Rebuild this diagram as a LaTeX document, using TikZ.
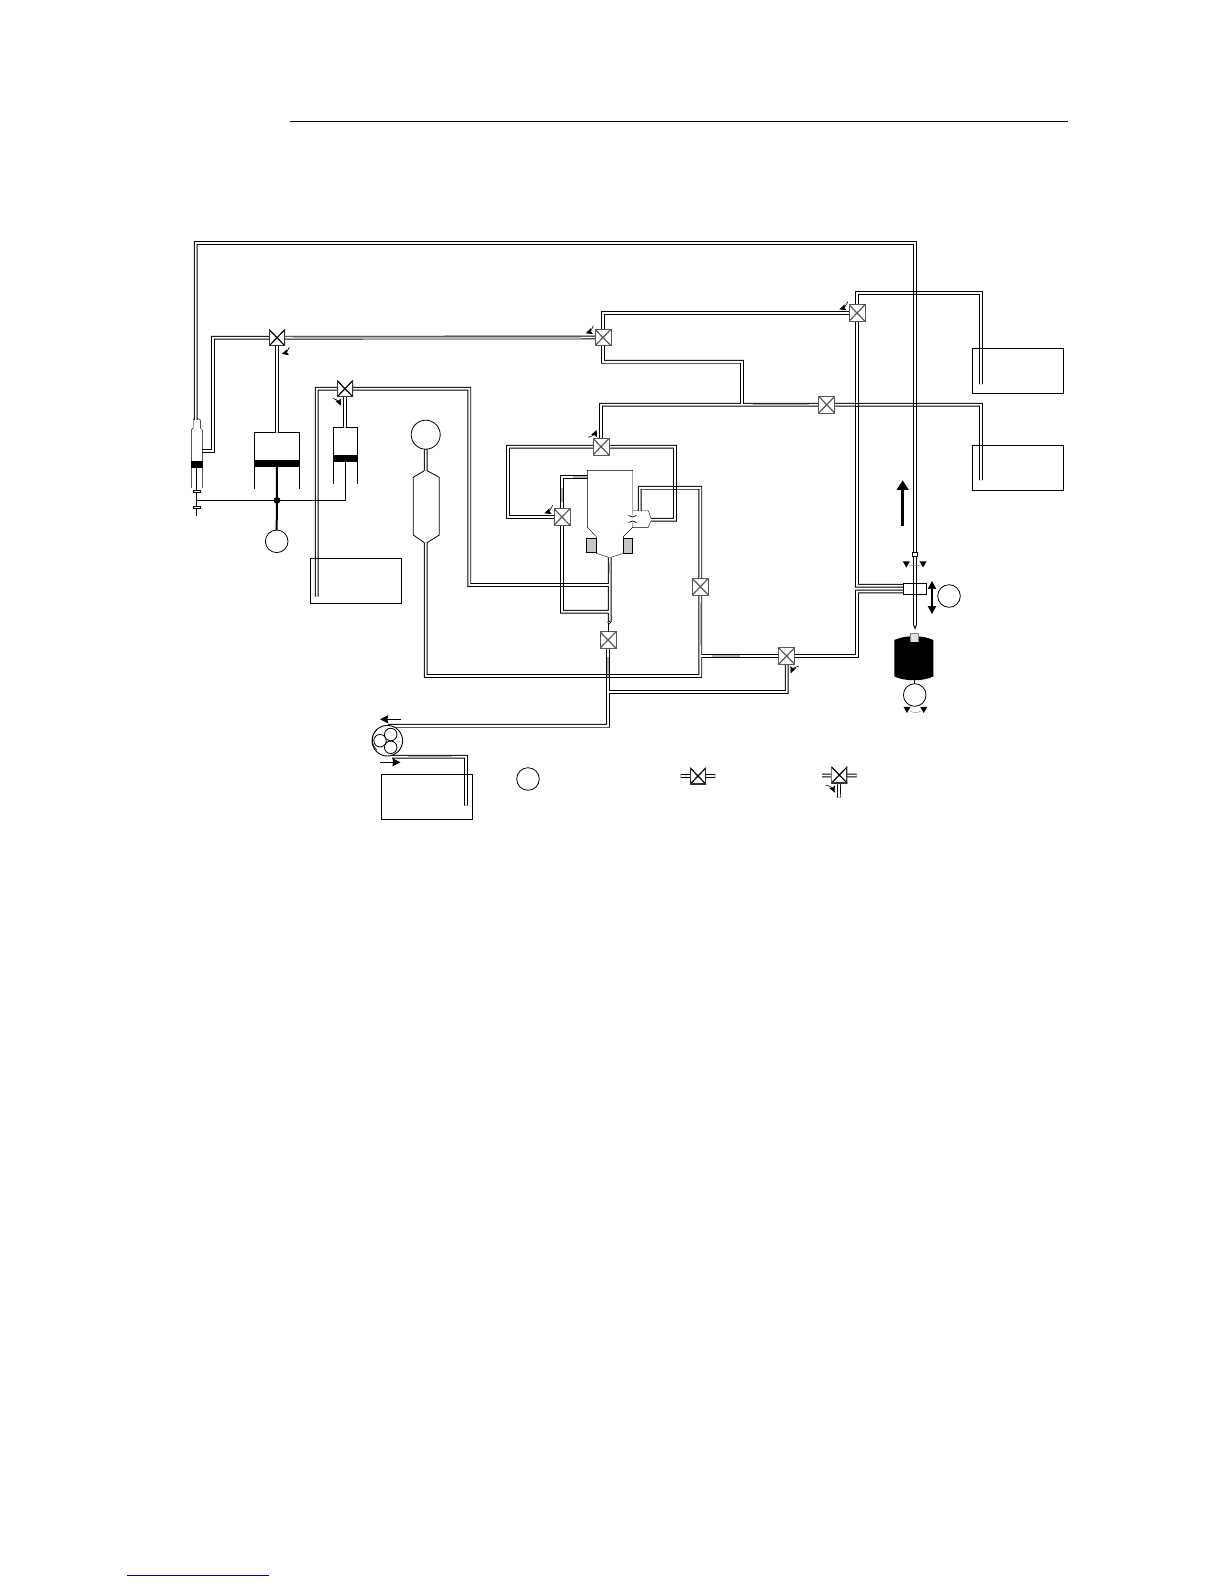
\documentclass[tikz,border=0pt]{standalone}
\usetikzlibrary{arrows.meta,calc}
\pgfdeclarelayer{pipes}
\pgfsetlayers{pipes,main}
\definecolor{footblue}{RGB}{0,0,160}
\tikzset{
  x=1pt,y=-1pt,
  line width=1pt,
  pipe/.style={line width=0.9pt,double=white,double distance=1.9pt},
  graybit/.style={line width=1.9pt,draw=gray!60},
  valvebase/.style={rectangle,fill=white,inner sep=0pt,outer sep=0pt,minimum width=16pt,minimum height=16.5pt},
  xmark/.style={path picture={\draw[line width=1.2pt]
      (path picture bounding box.north west)--(path picture bounding box.south east)
      (path picture bounding box.north east)--(path picture bounding box.south west);}},
  valve/.style={valvebase,draw=black!65,line width=0.9pt,xmark},
  valveopen/.style={valvebase,path picture={\draw[line width=1.2pt]
      (path picture bounding box.north west)--(path picture bounding box.south east)
      (path picture bounding box.north east)--(path picture bounding box.south west);
      \draw[line width=2pt,draw=black!80]
      (path picture bounding box.north west)--(path picture bounding box.south west)
      --(path picture bounding box.south east)--(path picture bounding box.north east);}},
  motor/.style={circle,draw,fill=white,line width=0.8pt,inner sep=0pt,outer sep=0pt,minimum size=22.6pt},
  roller/.style={circle,draw,line width=0.8pt,inner sep=0pt,outer sep=0pt,minimum size=12.5pt},
  tank/.style={rectangle,draw,line width=1pt,inner sep=0pt,outer sep=0pt,minimum width=91pt,minimum height=45pt},
  turn/.style={line width=0.6pt,-{Stealth[length=6.5pt,width=6pt,inset=1pt]}},
  flow/.style={line width=0.9pt,-{Stealth[length=8pt,width=8pt,inset=0.5pt]}},
  block/.style={fill=gray!45,draw,line width=0.8pt},
}
\newcommand\xing[1]{\draw[line width=0.9pt] ([shift={(-1.4,-1.4)}]#1) rectangle ([shift={(1.4,1.4)}]#1);}
\newcommand\tridown[2]{\fill (#1-3.6,#2-3) -- (#1+3.6,#2-3) -- (#1,#2+3.2) -- cycle;}
\begin{document}
\begin{tikzpicture}
\useasboundingbox (0,0) rectangle (1224,1584);
\begin{pgfonlayer}{pipes}
\fill[white] (0,0) rectangle (1224,1584);
\end{pgfonlayer}

% page rules
\coordinate (hl) at (290,121.5); \coordinate (hr) at (1067.5,121.5);
\draw[line width=1pt] (hl) -- (hr);
\coordinate (fl) at (127,1575); \coordinate (fr) at (269,1575);
\draw[line width=1pt,footblue] (fl) -- (fr);

% valves
\node[valveopen] (V1) at (277,337.7) {};
\node[valveopen] (V2) at (345,388.7) {};
\node[valve] (V3) at (603,337.5) {};
\node[valve] (V6) at (601,446.7) {};
\node[valve] (V7) at (826.7,404.7) {};
\node[valve] (V8) at (857,313) {};
\node[valve] (V10) at (562,517) {};
\node[valve] (V4) at (700.3,586.7) {};
\node[valve] (V5) at (608,640) {};
\node[valve] (V9) at (786.7,656) {};
\node[valveopen] (LA) at (698,776) {};
\node[valveopen] (LB) at (839.3,775) {};

% tanks, motors, pump
\node[tank] (T1) at (355.8,580.8) {};
\node[tank] (T2) at (1018,370.8) {};
\node[tank] (T3) at (1018,467.8) {};
\node[tank] (T4) at (427,796.8) {};
\node[motor] (MA) at (276.7,541.3) {};
\node[motor,minimum size=29pt] (FC) at (425.7,434.7) {};
\node[motor] (MB) at (949,596) {};
\node[motor] (MC) at (914.7,695) {};
\node[motor] (ML) at (528,779) {};
\node[circle,draw,fill=white,line width=0.9pt,inner sep=0pt,minimum size=30.6pt] (P) at (387.3,740.7) {};
\node[roller] (R1) at (380,740.7) {};
\node[roller] (R2) at (390.7,734.5) {};
\node[roller] (R3) at (390.7,747.3) {};

% pipe waypoints
\coordinate (sytip) at (195.7,420);
\coordinate (syside) at (202,451);
\coordinate (toprt) at (915,243);
\coordinate (needletop) at (915,625);
\coordinate (a2) at (213,337.7);
\coordinate (bigtop) at (277,432.3);
\coordinate (smtop) at (345,427.3);
\coordinate (t1in) at (316.7,596.7);
\coordinate (b1) at (469.3,585);
\coordinate (j1) at (609.7,585);
\coordinate (botltop) at (425.7,470.7);
\coordinate (botlbot) at (425.7,542.7);
\coordinate (c1) at (700.3,676);
\coordinate (d1) at (700.3,487.8);
\coordinate (cin) at (639.7,511);
\coordinate (e1) at (508,517);
\coordinate (e2) at (675,519.7);
\coordinate (cright) at (651,519.7);
\coordinate (chl) at (587.3,477);
\coordinate (j2) at (609.7,611.7);
\coordinate (coltop) at (609.7,557.3);
\coordinate (colbot) at (609.7,622);
\coordinate (g1) at (608,725.8);
\coordinate (pumpin) at (388,725.8);
\coordinate (h1) at (700.3,656);
\coordinate (h2) at (608,692);
\coordinate (i1) at (857,591.5);
\coordinate (slidb) at (903.3,591.5);
\coordinate (slida) at (903.3,585.7);
\coordinate (k1) at (981,293);
\coordinate (k2) at (981,384);
\coordinate (l1) at (742,361.8);
\coordinate (l2) at (742,405);
\coordinate (m2) at (981,480);
\coordinate (pumpout) at (392,756.7);
\coordinate (n2) at (466,805.7);
\coordinate (la1) at (680.7,776); \coordinate (la2) at (715.3,776);
\coordinate (lb1) at (822,775.5); \coordinate (lb2) at (856.7,775.5);
\coordinate (lb3) at (838.8,797.7);

% all pipes on one path, so that junctions open into each other
\begin{pgfonlayer}{pipes}
\draw[pipe]
  (sytip) |- (toprt) -- (needletop)
  (syside) -| (a2) -- (V1)
  (V1) -- (V3)
  (V1) -- (bigtop)
  (V2) -- (smtop)
  (V2) -| (t1in)
  (V2) -| (b1) -- (j1)
  (FC) -- (botltop)
  (botlbot) |- (c1) -- (V4)
  (V4) -- (d1) -| (cin)
  (V6) -| (e1) -- (V10)
  (V6) -| (e2) -- (cright)
  (V6) |- (V7)
  (V10) |- (chl)
  (V10) |- (j2)
  (coltop) -- (colbot)
  (V5) -- (g1) -- (pumpin)
  (h1) -- (V9)
  (V9) |- (h2)
  (V9) -| (i1) -- (slidb)
  (V8) |- (slida)
  (V8) |- (k1) -- (k2)
  (V3) |- (V8)
  (V3) |- (l1) -- (l2)
  (V7) -| (m2)
  (pumpout) -| (n2)
  (la1) -- (la2)
  (lb1) -- (lb2)
  (LB) -- (lb3);
% greyed stretches of the scan
\draw[graybit] (293,337.7) -- (581,337.7);
\draw[graybit] (753,404.7) -- (809,404.7);
\draw[graybit] (712,656) -- (740,656);
\draw[graybit] (700.3,603) -- (700.3,645);
\draw[graybit] (608,657) -- (608,677);
\draw[graybit] (609.7,563) -- (609.7,573);
\draw[graybit] (562,488) -- (562,502);
\draw[graybit] (573,477) -- (587,477);
\draw[graybit] (408,756.7) -- (452,756.7);
\end{pgfonlayer}

% crossings: both pipes stay visible
\coordinate (x1) at (toprt |- k1);
\coordinate (x2) at (toprt |- V7);
\coordinate (x3) at (V8 |- V7);
\coordinate (x4) at (e2 |- d1);
\coordinate (x5) at (V5 |- c1);
\coordinate (x6) at (V10 |- b1);
\xing{x1}\xing{x2}\xing{x3}\xing{x4}\xing{x5}\xing{x6}

% thin link from column to bottom valve
\draw[line width=0.8pt] (608,622) -- (V5);
\draw[line width=0.6pt,fill=white] (609.3,622.5) circle (1.5);

% left syringe
\draw (191.3,488) -- (191.3,430) -- (193.2,428) -- (193.2,420) -- (194.3,418)
      (202.3,488) -- (202.3,430) -- (200.3,428) -- (200.3,420) -- (197.1,418);
\fill (191,461) rectangle (202.6,468);
\draw[line width=0.8pt] (196.3,468) -- (196.3,515.7);
\draw[fill=white,line width=0.6pt] (193.3,490.7) rectangle (200.7,492.7);
\draw[fill=white,line width=0.6pt] (193.3,506.3) rectangle (200.7,508.3);

% big syringe
\draw (254.3,488.7) -- (254.3,432.3) -- (275.6,432.3) (278.4,432.3) -- (299.3,432.3) -- (299.3,488.7);
\fill (254,460) rectangle (299.6,467);
\draw[line width=2pt] (277,467) -- (MA.north);
\fill (277,500.3) circle (3.4);

% small syringe
\draw (333.3,484) -- (333.3,427.3) -- (343.6,427.3) (346.4,427.3) -- (356.7,427.3) -- (356.7,484);
\fill (333,455) rectangle (357,461.7);
\draw[line width=1.3pt] (345.3,461.7) -- (345.3,478);
\draw[line width=0.9pt] (196.3,500.3) -- (345.3,500.3) -- (345.3,477);

% bottle
\draw[line width=0.8pt] (424.3,470.7) -- (413.3,477.3) -- (413.3,535) -- (424.3,542.7)
      (427.1,470.7) -- (439.3,477.3) -- (439.3,535) -- (427.1,542.7);

% main chamber
\draw (632.7,514.5) -- (632.7,470.3) -- (587.3,470.3) -- (587.3,527.3) -- (596.3,536.7) -- (596.3,553.3) -- (608.3,557.3)
      (632.7,522.5) -- (632.7,527.3) -- (623.3,536.7) -- (623.3,553.3) -- (611.1,557.3);
\draw[block] (586.7,538.3) rectangle (596.3,552.7);
\draw[block] (623.3,538.3) rectangle (632.7,553.3);
% side chamber
\draw (632.7,510.7) -- (638.2,510.7) (641.2,510.7) -- (648.3,510.7) -- (650.7,517.9)
      (650.7,521.5) -- (648.3,527.3) -- (632.7,527.3);
\draw[line width=0.7pt] (628.5,515.5) .. controls (631,517.5) and (634,517.5) .. (636.5,515.5)
      (628.5,522.5) .. controls (631,520.5) and (634,520.5) .. (636.5,522.5);

% dispensing head
\draw[fill=white,line width=0.8pt] (912,552.3) rectangle (917.6,556.7);
\draw[line width=0.9pt] (913.6,625) -- (915,628.5) -- (916.4,625);
\draw (903.3,583.3) rectangle (926.3,594.3);
\tridown{906.3}{564.3}\tridown{923}{564.3}
\draw[line width=0.4pt,gray] (909,565) .. controls (913,566) and (917,566) .. (921,565);
\coordinate (vu) at (932,581); \coordinate (vd) at (932,614);
\draw[line width=1.1pt,{Stealth[length=8pt,width=8.5pt,inset=0.5pt]}-{Stealth[length=8pt,width=8.5pt,inset=0.5pt]}] (vu) -- (vd);
\coordinate (bigu) at (902.7,480.3); \coordinate (bigd) at (902.7,526);
\draw[line width=2.8pt,-{Stealth[length=9.5pt,width=11.5pt,inset=0pt]}] (bigd) -- (bigu);

% drum
\fill (894.3,640) .. controls (905,635) and (923,635) .. (933.3,640) -- (933.3,676.5)
      .. controls (923,681.5) and (905,681.5) .. (894.3,676.5) -- cycle;
\fill[gray!25] (910,633.5) rectangle (918.5,641.5);
\draw[line width=0.7pt,gray] (910,641.5) -- (910,633.5) -- (918.5,633.5) -- (918.5,641.5);
\draw[line width=0.8pt] (914.7,680) -- (MC.north);
\tridown{907}{709.8}\tridown{923.7}{709.8}
\draw[line width=0.4pt,gray] (910,711) .. controls (913.5,713) and (917.5,713) .. (921,711);

% pump extras
\draw[line width=0.6pt] (377,729.5) arc[start angle=228,end angle=132,radius=14] ;
\coordinate (fa) at (400.7,719.3); \coordinate (fb) at (380,719.3);
\draw[flow] (fa) -- (fb);
\coordinate (fc) at (380,762.3); \coordinate (fd) at (400.5,762.3);
\draw[flow] (fc) -- (fd);

% direction marks at the three-way valves
\draw[turn] ([shift={(12.3,9.6)}]V1.center) to[bend left=25] ([shift={(4.7,16.3)}]V1.center);
\draw[turn] ([shift={(-12.3,9.6)}]V2.center) to[bend left=25] ([shift={(-4.3,17)}]V2.center);
\draw[turn] ([shift={(-9.7,-11.8)}]V3.center) to[bend left=25] ([shift={(-17.3,-4.2)}]V3.center);
\draw[turn] ([shift={(-9.3,-11.3)}]V8.center) to[bend left=25] ([shift={(-17.7,-3.7)}]V8.center);
\draw[turn] ([shift={(-12.7,-9.4)}]V6.center) to[bend right=25] ([shift={(-4.3,-16.7)}]V6.center);
\draw[turn] ([shift={(-9.3,-12)}]V10.center) to[bend left=25] ([shift={(-17.7,-3.7)}]V10.center);
\draw[turn] ([shift={(12,10)}]V9.center) to[bend right=25] ([shift={(4,17.3)}]V9.center);
\draw[turn] ([shift={(-13.6,10)}]LB.center) to[bend left=25] ([shift={(-4.3,17.7)}]LB.center);
\end{tikzpicture}
\end{document}
